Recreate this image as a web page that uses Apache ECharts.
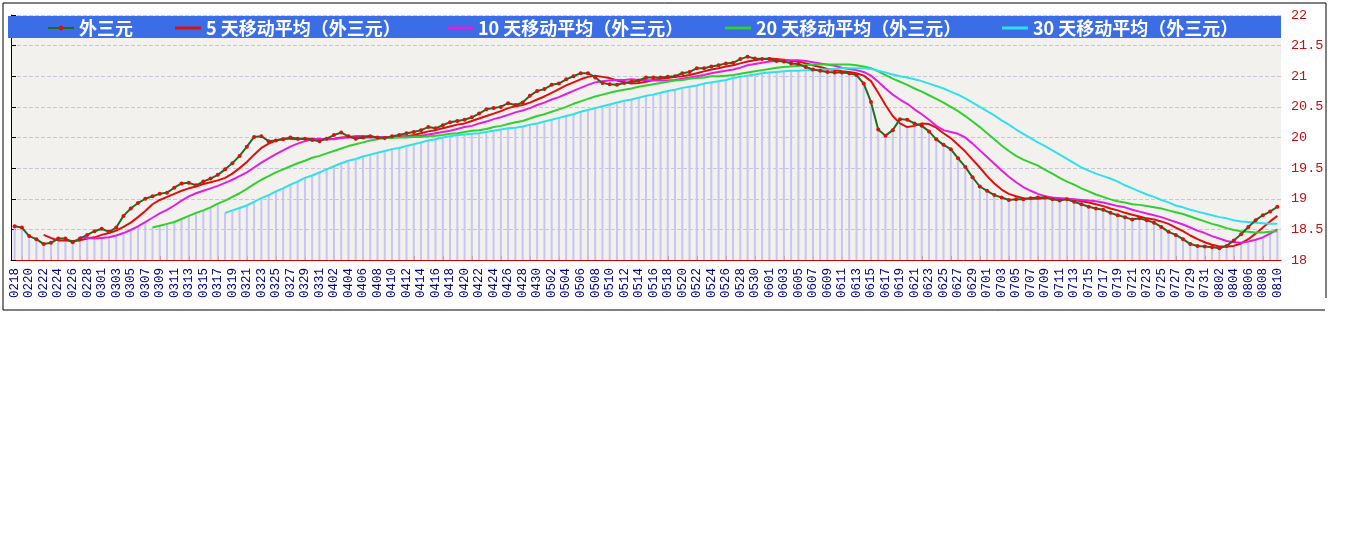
<!DOCTYPE html>
<html><head><meta charset="utf-8">
<script src="https://cdn.jsdelivr.net/npm/echarts@6/dist/echarts.min.js"></script>
<style>html,body{margin:0;padding:0;background:#fff;}#c{width:1348px;height:541px;}</style>
</head><body><div id="c"></div>
<script>
// ---- categories (dates, MMDD) ----
const dates = [
'0218','0219','0220','0221','0222','0223','0224','0225','0226','0227','0228','0229',
'0301','0302','0303','0304','0305','0306','0307','0308','0309','0310','0311','0312','0313','0314','0315','0316','0317','0318','0319','0320','0321','0322','0323','0324','0325','0326','0327','0328','0329','0330','0331',
'0401','0402','0403','0404','0405','0406','0407','0408','0409','0410','0411','0412','0413','0414','0415','0416','0417','0418','0419','0420','0421','0422','0423','0424','0425','0426','0427','0428','0429','0430',
'0501','0502','0503','0504','0505','0506','0507','0508','0509','0510','0511','0512','0513','0514','0515','0516','0517','0518','0519','0520','0521','0522','0523','0524','0525','0526','0527','0528','0529','0530','0531',
'0601','0602','0603','0604','0605','0606','0607','0608','0609','0610','0611','0612','0613','0614','0615','0616','0617','0618','0619','0620','0621','0622','0623','0624','0625','0626','0627','0628','0629','0630',
'0701','0702','0703','0704','0705','0706','0707','0708','0709','0710','0711','0712','0713','0714','0715','0716','0717','0718','0719','0720','0721','0722','0723','0724','0725','0726','0727','0728','0729','0730','0731',
'0801','0802','0803','0804','0805','0806','0807','0808','0809','0810'];

// ---- 外三元 ----
const mainVals = [
18.55,18.53,18.39,18.34,18.26,18.28,18.35,18.35,18.29,18.35,
18.41,18.47,18.51,18.46,18.53,18.72,18.84,18.93,19.00,19.04,
19.08,19.10,19.18,19.25,19.26,19.22,19.28,19.33,19.39,19.48,
19.58,19.70,19.85,20.01,20.02,19.94,19.95,19.97,20.00,19.98,
19.98,19.96,19.94,19.98,20.04,20.08,20.02,19.98,20.00,20.02,
20.00,19.99,20.02,20.04,20.07,20.09,20.12,20.17,20.15,20.20,
20.25,20.27,20.29,20.33,20.39,20.46,20.48,20.50,20.56,20.53,
20.57,20.68,20.76,20.79,20.86,20.88,20.95,21.00,21.05,21.05,
20.98,20.89,20.87,20.86,20.89,20.91,20.93,20.98,20.98,20.98,
20.99,21.00,21.05,21.07,21.13,21.13,21.16,21.18,21.21,21.22,
21.28,21.32,21.29,21.28,21.28,21.25,21.24,21.21,21.20,21.15,
21.11,21.09,21.07,21.06,21.06,21.05,21.02,20.88,20.58,20.13,
20.03,20.12,20.30,20.29,20.23,20.19,20.10,19.97,19.88,19.81,
19.66,19.52,19.35,19.20,19.13,19.06,19.02,18.98,18.99,18.99,
19.01,19.02,19.02,18.99,18.97,18.99,18.95,18.91,18.87,18.84,
18.82,18.77,18.73,18.70,18.66,18.68,18.65,18.61,18.54,18.46,
18.41,18.34,18.26,18.23,18.22,18.21,18.19,18.23,18.32,18.42,
18.54,18.65,18.73,18.79,18.87];

// ---- 5 天移动平均 ----
const ma5 = [
null,null,null,null,18.41,18.36,18.32,18.32,18.31,18.32,
18.35,18.37,18.41,18.44,18.48,18.54,18.61,18.70,18.80,18.91,
18.98,19.03,19.08,19.13,19.17,19.20,19.24,19.27,19.30,19.34,
19.41,19.50,19.60,19.72,19.83,19.90,19.95,19.98,19.98,19.97,
19.98,19.98,19.97,19.97,19.98,20.00,20.01,20.02,20.02,20.02,
20.00,20.00,20.01,20.01,20.02,20.04,20.07,20.10,20.12,20.15,
20.18,20.21,20.23,20.27,20.31,20.35,20.39,20.43,20.48,20.51,
20.53,20.57,20.62,20.67,20.73,20.79,20.85,20.90,20.95,20.99,
21.01,20.99,20.97,20.93,20.90,20.88,20.89,20.91,20.94,20.96,
20.97,20.99,21.00,21.02,21.05,21.08,21.11,21.13,21.16,21.18,
21.21,21.24,21.26,21.28,21.29,21.28,21.27,21.25,21.24,21.21,
21.18,21.15,21.12,21.10,21.08,21.07,21.05,21.01,20.92,20.73,
20.53,20.35,20.23,20.17,20.19,20.23,20.22,20.16,20.07,19.99,
19.88,19.77,19.64,19.51,19.37,19.25,19.15,19.08,19.04,19.01,
19.00,19.00,19.01,19.01,19.00,19.00,18.98,18.96,18.94,18.91,
18.88,18.84,18.81,18.77,18.74,18.71,18.68,18.66,18.63,18.59,
18.53,18.47,18.40,18.34,18.29,18.25,18.22,18.22,18.23,18.27,
18.34,18.43,18.53,18.63,18.72];

// ---- 10 天移动平均 ----
const ma10 = [
null,null,null,null,null,null,null,null,null,18.37,
18.36,18.35,18.36,18.37,18.40,18.44,18.49,18.55,18.62,18.69,
18.76,18.82,18.89,18.97,19.04,19.09,19.13,19.17,19.21,19.26,
19.31,19.37,19.43,19.51,19.59,19.66,19.73,19.79,19.85,19.90,
19.94,19.97,19.98,19.97,19.97,19.99,20.00,20.00,20.00,20.00,
20.00,20.01,20.01,20.02,20.02,20.02,20.03,20.05,20.07,20.09,
20.11,20.14,20.17,20.19,20.23,20.26,20.30,20.33,20.37,20.41,
20.44,20.48,20.53,20.57,20.62,20.66,20.71,20.76,20.81,20.86,
20.90,20.92,20.93,20.94,20.94,20.95,20.94,20.94,20.93,20.93,
20.93,20.94,20.96,20.98,21.00,21.02,21.05,21.07,21.09,21.11,
21.14,21.18,21.20,21.22,21.24,21.25,21.26,21.26,21.26,21.25,
21.23,21.21,21.19,21.17,21.14,21.12,21.10,21.07,21.01,20.91,
20.80,20.70,20.62,20.55,20.46,20.38,20.29,20.19,20.12,20.09,
20.06,20.00,19.90,19.79,19.68,19.57,19.46,19.36,19.27,19.19,
19.13,19.08,19.04,19.02,19.01,19.00,18.99,18.98,18.97,18.96,
18.94,18.91,18.88,18.86,18.82,18.79,18.76,18.73,18.70,18.66,
18.62,18.58,18.53,18.48,18.44,18.39,18.35,18.31,18.29,18.28,
18.30,18.33,18.37,18.43,18.50];

// ---- 20 天移动平均 ----
const ma20 = [
null,null,null,null,null,null,null,null,null,null,
null,null,null,null,null,null,null,null,null,18.53,
18.56,18.59,18.62,18.67,18.72,18.77,18.81,18.86,18.92,18.97,
19.03,19.09,19.16,19.24,19.31,19.37,19.43,19.48,19.53,19.58,
19.62,19.67,19.70,19.74,19.78,19.82,19.86,19.89,19.92,19.95,
19.97,19.99,19.99,20.00,20.00,20.01,20.01,20.02,20.03,20.04,
20.06,20.07,20.09,20.11,20.12,20.14,20.17,20.19,20.22,20.25,
20.27,20.31,20.35,20.38,20.42,20.46,20.50,20.55,20.59,20.63,
20.67,20.70,20.73,20.76,20.78,20.80,20.83,20.85,20.87,20.89,
20.91,20.93,20.94,20.96,20.97,20.98,21.00,21.00,21.01,21.02,
21.04,21.06,21.08,21.10,21.12,21.14,21.15,21.16,21.17,21.18,
21.19,21.19,21.19,21.19,21.19,21.19,21.18,21.16,21.13,21.08,
21.02,20.96,20.91,20.86,20.80,20.75,20.69,20.63,20.57,20.50,
20.43,20.35,20.26,20.17,20.07,19.97,19.87,19.78,19.70,19.64,
19.59,19.54,19.47,19.41,19.34,19.28,19.23,19.17,19.12,19.07,
19.03,18.99,18.96,18.94,18.91,18.90,18.88,18.86,18.84,18.81,
18.78,18.75,18.71,18.67,18.63,18.59,18.56,18.52,18.49,18.47,
18.46,18.45,18.45,18.46,18.47];

// ---- 30 天移动平均 ----
const ma30 = [
null,null,null,null,null,null,null,null,null,null,
null,null,null,null,null,null,null,null,null,null,
null,null,null,null,null,null,null,null,null,18.77,
18.81,18.85,18.89,18.95,19.01,19.06,19.12,19.17,19.23,19.28,
19.34,19.38,19.43,19.48,19.53,19.58,19.62,19.65,19.69,19.72,
19.75,19.78,19.81,19.83,19.86,19.89,19.92,19.95,19.97,20.00,
20.02,20.04,20.05,20.06,20.07,20.09,20.11,20.13,20.15,20.16,
20.18,20.21,20.23,20.26,20.29,20.32,20.35,20.38,20.42,20.45,
20.48,20.51,20.54,20.57,20.60,20.62,20.65,20.68,20.70,20.73,
20.76,20.78,20.81,20.83,20.85,20.88,20.90,20.92,20.94,20.97,
20.99,21.01,21.03,21.05,21.06,21.07,21.08,21.09,21.09,21.10,
21.10,21.11,21.11,21.12,21.13,21.13,21.13,21.13,21.12,21.09,
21.06,21.03,21.00,20.98,20.95,20.92,20.88,20.84,20.80,20.75,
20.70,20.64,20.57,20.50,20.43,20.36,20.28,20.21,20.13,20.06,
19.99,19.92,19.86,19.79,19.72,19.65,19.58,19.51,19.46,19.41,
19.37,19.33,19.28,19.22,19.17,19.12,19.07,19.03,18.98,18.94,
18.89,18.86,18.82,18.79,18.76,18.73,18.70,18.68,18.65,18.63,
18.62,18.61,18.60,18.59,18.59];

// ---- axis range / tick step ----
const yMin = 18, yMax = 22, yStep = 0.5;
const seriesNames = ['外三元','5 天移动平均（外三元）','10 天移动平均（外三元）','20 天移动平均（外三元）','30 天移动平均（外三元）'];

// background bars reach the lowest line of each day
const barVals = mainVals.map((v, i) =>
  Math.min.apply(null, [v, ma5[i], ma10[i], ma20[i], ma30[i]].filter(x => x != null)));

const chart = echarts.init(document.getElementById('c'));
const legendText = {color:'#ffffff', fontWeight:'bold', fontSize:18, fontFamily:'Noto Sans CJK SC'};
const legendLefts = [47, 175, 447, 725, 1002];
const colors = ['#1f6e1f','#dd1010','#e020e0','#30d030','#30e0ea'];

function maLine(name, data, color) {
  return {name, type:'line', data, symbol:'none', smooth:false, connectNulls:false,
    lineStyle:{color, width:2}, itemStyle:{color}, z:3, silent:true, animation:false};
}

const legends = seriesNames.map((n, k) => ({
  data:[n], left:legendLefts[k], top:18, padding:0, itemWidth:26, itemHeight: k === 0 ? 6 : 3,
  icon: k === 0 ? undefined : 'rect',
  itemGap:0, textStyle:Object.assign({lineHeight:20}, legendText), selectedMode:false, z:10
}));
legends.forEach(l => { if (l.icon === undefined) delete l.icon; });
legends[0].top = 18;
for (let k = 1; k < 5; k++) legends[k].top = 18;

chart.setOption({
  animation:false,
  backgroundColor:'#ffffff',
  grid:{left:11, right:67, top:15, bottom:281, show:true, backgroundColor:'#f3f1ee', borderWidth:0},
  legend: legends,
  xAxis:{
    type:'category', data:dates, boundaryGap:true,
    axisLine:{show:true, lineStyle:{color:'#cc0000', width:1}},
    axisTick:{show:true, inside:true, length:4, interval:0, alignWithLabel:true, lineStyle:{color:'#cc0000'}},
    axisLabel:{interval:1, rotate:90, color:'#000080', fontFamily:'Liberation Mono', fontSize:12.5, margin:8},
    splitLine:{show:false}
  },
  yAxis:[
    {type:'value', position:'right', min:yMin, max:yMax, interval:yStep,
     axisLine:{show:false}, axisTick:{show:false},
     axisLabel:{color:'#c01010', fontFamily:'Liberation Mono', fontSize:13.5, margin:10},
     splitLine:{show:true, lineStyle:{type:'dashed', color:'#c6c6de', width:1}}},
    {type:'value', position:'left', min:yMin, max:yMax, interval:yStep,
     axisLine:{show:true, lineStyle:{color:'#000000', width:1}},
     axisTick:{show:true, inside:true, length:5, lineStyle:{color:'#000000'}},
     axisLabel:{show:false}, splitLine:{show:false}}
  ],
  graphic:[
    {type:'rect', shape:{x:8, y:16, width:1273, height:22}, style:{fill:'#3a6de6'}, z:5, silent:true},
    {type:'polyline', shape:{points:[[1326,3],[3,3],[3,310],[1325,310]]}, style:{stroke:'#000', lineWidth:1, fill:null}, z:5, silent:true},
    {type:'line', shape:{x1:1326, y1:3, x2:1326, y2:298}, style:{stroke:'#000', lineWidth:1}, z:5, silent:true}
  ],
  series:[
    {name:'bars', type:'bar', data:barVals, barWidth:2, itemStyle:{color:'#c6c6f0'}, z:1, silent:true, legendHoverLink:false},
    {name:seriesNames[0], type:'line', data:mainVals, symbol:'circle', symbolSize:4, showSymbol:true,
     lineStyle:{color:colors[0], width:2}, itemStyle:{color:'#dd1010'}, z:4, silent:true},
    maLine(seriesNames[1], ma5, colors[1]),
    maLine(seriesNames[2], ma10, colors[2]),
    maLine(seriesNames[3], ma20, colors[3]),
    maLine(seriesNames[4], ma30, colors[4])
  ]
});
</script></body></html>
